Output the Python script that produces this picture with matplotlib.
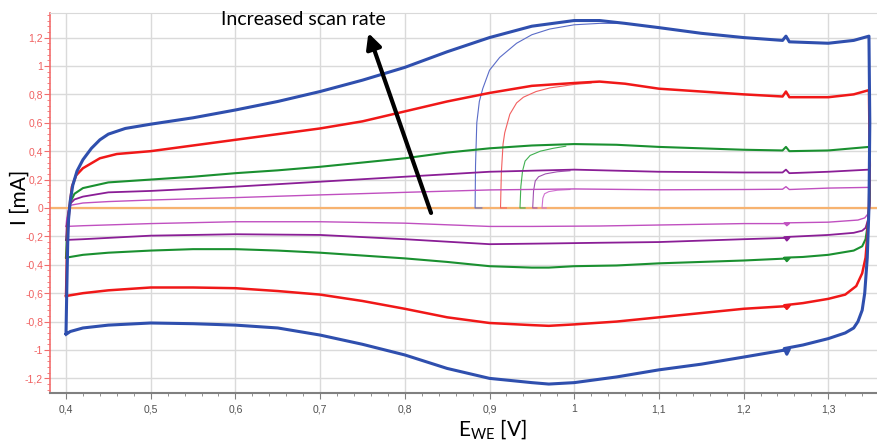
import matplotlib
matplotlib.use("Agg")
import matplotlib.pyplot as plt
from matplotlib.ticker import MultipleLocator, FuncFormatter

# Cyclic voltammograms, values (E in V, I in mA)
# each loop: anodic branch 0.40 -> 1.35 V, then cathodic branch back to 0.40 V
blue_E = [0.400, 0.401, 0.402, 0.403, 0.405, 0.408, 0.413, 0.420, 0.430, 0.440, 0.450, 0.470,
          0.500, 0.550, 0.600, 0.650, 0.700, 0.750, 0.800, 0.850, 0.900, 0.950, 1.000, 1.030,
          1.060, 1.100, 1.150, 1.200, 1.246, 1.250, 1.254, 1.300, 1.330, 1.348,
          1.349, 1.348, 1.346, 1.343, 1.340, 1.335, 1.330, 1.320, 1.300, 1.270, 1.248, 1.251,
          1.254, 1.200, 1.150, 1.100, 1.050, 1.000, 0.970, 0.950, 0.900, 0.850, 0.800, 0.750,
          0.700, 0.650, 0.600, 0.550, 0.500, 0.450, 0.420, 0.405, 0.400]
blue_I = [-0.88, -0.55, -0.25, -0.08, 0.05, 0.16, 0.26, 0.34, 0.42, 0.48, 0.52, 0.56,
          0.59, 0.635, 0.69, 0.75, 0.82, 0.90, 0.99, 1.10, 1.20, 1.28, 1.32, 1.32,
          1.30, 1.27, 1.23, 1.20, 1.18, 1.21, 1.17, 1.16, 1.18, 1.21,
          0.60, 0.00, -0.35, -0.60, -0.72, -0.80, -0.845, -0.88, -0.92, -0.965, -0.99, -1.03,
          -0.995, -1.05, -1.10, -1.14, -1.19, -1.23, -1.24, -1.23, -1.20, -1.13, -1.035, -0.96,
          -0.895, -0.845, -0.825, -0.815, -0.81, -0.825, -0.845, -0.87, -0.89]

red_E = [0.400, 0.401, 0.402, 0.404, 0.407, 0.412, 0.420, 0.440, 0.460, 0.500, 0.550, 0.600,
         0.650, 0.700, 0.750, 0.800, 0.850, 0.900, 0.950, 1.000, 1.030, 1.060, 1.100, 1.150,
         1.200, 1.246, 1.250, 1.254, 1.300, 1.330, 1.348,
         1.349, 1.348, 1.346, 1.344, 1.340, 1.333, 1.320, 1.300, 1.270, 1.248, 1.251, 1.254,
         1.200, 1.150, 1.100, 1.050, 1.000, 0.970, 0.950, 0.900, 0.850, 0.800, 0.750, 0.700,
         0.650, 0.600, 0.550, 0.500, 0.450, 0.420, 0.405, 0.400]
red_I = [-0.62, -0.35, -0.15, 0.00, 0.15, 0.23, 0.28, 0.35, 0.38, 0.40, 0.44, 0.48,
         0.52, 0.56, 0.61, 0.68, 0.75, 0.81, 0.86, 0.88, 0.89, 0.875, 0.84, 0.82,
         0.80, 0.785, 0.82, 0.78, 0.78, 0.80, 0.83,
         0.30, 0.00, -0.20, -0.35, -0.46, -0.55, -0.61, -0.64, -0.67, -0.685, -0.71, -0.69,
         -0.71, -0.74, -0.77, -0.80, -0.82, -0.83, -0.825, -0.81, -0.77, -0.71, -0.655, -0.61,
         -0.585, -0.565, -0.56, -0.56, -0.58, -0.60, -0.615, -0.62]

green_E = [0.400, 0.401, 0.403, 0.405, 0.410, 0.420, 0.450, 0.500, 0.550, 0.600, 0.650, 0.700,
           0.750, 0.800, 0.850, 0.900, 0.950, 1.000, 1.050, 1.100, 1.150, 1.200, 1.246, 1.250,
           1.254, 1.300, 1.348,
           1.349, 1.347, 1.344, 1.340, 1.330, 1.300, 1.270, 1.248, 1.251, 1.254, 1.200, 1.150,
           1.100, 1.050, 1.000, 0.970, 0.950, 0.900, 0.850, 0.800, 0.750, 0.700, 0.650, 0.600,
           0.550, 0.500, 0.450, 0.420, 0.405, 0.400]
green_I = [-0.35, -0.20, -0.05, 0.04, 0.10, 0.14, 0.18, 0.20, 0.22, 0.245, 0.265, 0.29,
           0.32, 0.35, 0.39, 0.42, 0.44, 0.45, 0.445, 0.43, 0.42, 0.41, 0.405, 0.43,
           0.40, 0.405, 0.43,
           0.10, -0.10, -0.22, -0.27, -0.30, -0.33, -0.345, -0.35, -0.375, -0.355, -0.37, -0.38,
           -0.39, -0.405, -0.41, -0.42, -0.42, -0.41, -0.38, -0.355, -0.335, -0.315, -0.30, -0.29,
           -0.29, -0.30, -0.315, -0.33, -0.345, -0.35]

purple_E = [0.400, 0.401, 0.403, 0.405, 0.410, 0.420, 0.450, 0.500, 0.550, 0.600, 0.700, 0.800,
            0.900, 1.000, 1.100, 1.200, 1.246, 1.250, 1.254, 1.300, 1.348,
            1.349, 1.347, 1.344, 1.340, 1.330, 1.300, 1.248, 1.251, 1.254, 1.200, 1.100, 1.030,
            0.970, 0.900, 0.800, 0.700, 0.600, 0.500, 0.420, 0.400]
purple_I = [-0.225, -0.12, -0.02, 0.03, 0.06, 0.08, 0.11, 0.12, 0.135, 0.15, 0.185, 0.22,
            0.255, 0.27, 0.255, 0.25, 0.25, 0.27, 0.245, 0.255, 0.27,
            0.05, -0.08, -0.14, -0.16, -0.175, -0.19, -0.205, -0.23, -0.21, -0.22, -0.24, -0.245,
            -0.25, -0.255, -0.22, -0.19, -0.185, -0.195, -0.22, -0.225]

magenta_E = [0.400, 0.401, 0.403, 0.406, 0.420, 0.450, 0.500, 0.600, 0.700, 0.800, 0.900, 1.000,
             1.100, 1.200, 1.246, 1.250, 1.254, 1.300, 1.348,
             1.349, 1.347, 1.343, 1.335, 1.300, 1.248, 1.251, 1.254, 1.200, 1.100, 1.030, 0.950,
             0.900, 0.800, 0.700, 0.600, 0.500, 0.420, 0.400]
magenta_I = [-0.13, -0.07, -0.01, 0.02, 0.035, 0.045, 0.056, 0.073, 0.092, 0.11, 0.127, 0.134,
             0.128, 0.13, 0.132, 0.15, 0.13, 0.14, 0.145,
             0.02, -0.04, -0.07, -0.085, -0.10, -0.105, -0.125, -0.11, -0.11, -0.12, -0.127, -0.13,
             -0.13, -0.107, -0.097, -0.097, -0.11, -0.125, -0.13]

# first scans starting from open circuit (thin lines)
blue0_E = [0.891, 0.883, 0.8835, 0.885, 0.888, 0.892, 0.900, 0.912, 0.932, 0.950, 0.971, 1.000, 1.030, 1.060]
blue0_I = [0.0, 0.0, 0.30, 0.60, 0.75, 0.84, 0.97, 1.06, 1.16, 1.22, 1.26, 1.29, 1.30, 1.30]
red0_E = [0.920, 0.913, 0.914, 0.916, 0.918, 0.924, 0.932, 0.940, 0.955, 0.971, 1.000, 1.020]
red0_I = [0.0, 0.0, 0.25, 0.45, 0.53, 0.66, 0.74, 0.78, 0.82, 0.845, 0.87, 0.88]
green0_E = [0.942, 0.936, 0.937, 0.939, 0.942, 0.948, 0.960, 0.975, 0.990]
green0_I = [0.0, 0.0, 0.15, 0.26, 0.33, 0.37, 0.40, 0.42, 0.435]
purple0_E = [0.956, 0.951, 0.952, 0.954, 0.958, 0.966, 0.980, 0.995]
purple0_I = [0.0, 0.0, 0.12, 0.19, 0.22, 0.24, 0.255, 0.262]
magenta0_E = [0.967, 0.962, 0.963, 0.965, 0.970, 0.980, 0.995]
magenta0_I = [0.0, 0.0, 0.07, 0.10, 0.115, 0.125, 0.13]

label_font = ['Lato', 'DejaVu Sans']
tick_font = ['Liberation Sans Narrow', 'Liberation Sans', 'DejaVu Sans']

fig = plt.figure(figsize=(8.77, 4.41), dpi=100)
ax = fig.add_axes([50 / 877, 48 / 441, 827 / 877, 380 / 441])

ax.axhline(0, color='#f7b370', lw=1.6, zorder=1)

# thin first scans
ax.plot(magenta0_E, magenta0_I, color='#d070d0', lw=0.8, zorder=2)
ax.plot(purple0_E, purple0_I, color='#a050b0', lw=0.8, zorder=2)
ax.plot(green0_E, green0_I, color='#40b050', lw=0.8, zorder=2)
ax.plot(red0_E, red0_I, color='#f26060', lw=0.8, zorder=2)
ax.plot(blue0_E, blue0_I, color='#5a6cc8', lw=0.8, zorder=2)

# steady loops
ax.plot(magenta_E, magenta_I, color='#c050c0', lw=1.0, zorder=3)
ax.plot(purple_E, purple_I, color='#8a1e96', lw=1.3, zorder=3)
ax.plot(green_E, green_I, color='#1a9030', lw=1.5, zorder=3)
ax.plot(red_E, red_I, color='#f01818', lw=1.8, zorder=3)
ax.plot(blue_E, blue_I, color='#2f4fae', lw=2.2, zorder=3)

ax.set_xlim(0.3811, 1.3575)
ax.set_ylim(-1.303, 1.373)

ax.xaxis.set_major_locator(MultipleLocator(0.1))
ax.xaxis.set_minor_locator(MultipleLocator(0.02))
ax.yaxis.set_major_locator(MultipleLocator(0.2))
ax.yaxis.set_minor_locator(MultipleLocator(0.04))


def comma_fmt(v, pos):
    v = round(v, 2)
    if abs(v) < 1e-9:
        return '0'
    s = f"{v:.1f}"
    if s.endswith('.0'):
        s = s[:-2]
    return s.replace('.', ',')


ax.xaxis.set_major_formatter(FuncFormatter(comma_fmt))
ax.yaxis.set_major_formatter(FuncFormatter(comma_fmt))

ax.grid(True, which='major', color='#dadada', lw=1.0, zorder=0)
ax.set_axisbelow(True)

ax.spines['right'].set_visible(False)
ax.spines['top'].set_color('#d9d9d9')
ax.spines['left'].set_color('#f26d6d')
ax.spines['left'].set_linewidth(1.2)
ax.spines['bottom'].set_color('#808080')
ax.spines['bottom'].set_linewidth(1.5)

ax.tick_params(axis='x', which='major', length=4, color='#808080', labelcolor='#505050', labelsize=7.5, pad=4)
ax.tick_params(axis='x', which='minor', length=2.5, color='#808080')
ax.tick_params(axis='y', which='major', length=4, color='#f26d6d', labelcolor='#f06060', labelsize=7.5, pad=1)
ax.tick_params(axis='y', which='minor', length=2, color='#f26d6d')
for lab in ax.get_xticklabels() + ax.get_yticklabels():
    lab.set_family(tick_font)

ax.annotate('', xy=(0.757, 1.232), xytext=(0.831, -0.035),
            arrowprops=dict(arrowstyle='-|>,head_length=0.9,head_width=0.45', color='black', lw=3.0,
                            shrinkA=0, shrinkB=0), zorder=5)
ax.text(0.68, 1.324, 'Increased scan rate', fontsize=14, ha='center', va='center',
        family=label_font, zorder=6)

fig.text(20 / 877, 1 - 197 / 441, 'I [mA]', rotation=90, fontsize=15, ha='center', va='center',
         family=label_font)
fig.text(492 / 877, 1 - 430 / 441, r'E$_{\mathregular{WE}}$ [V]', fontsize=15, ha='center', va='center',
         family=label_font)

fig.savefig('out.png', dpi=100)
